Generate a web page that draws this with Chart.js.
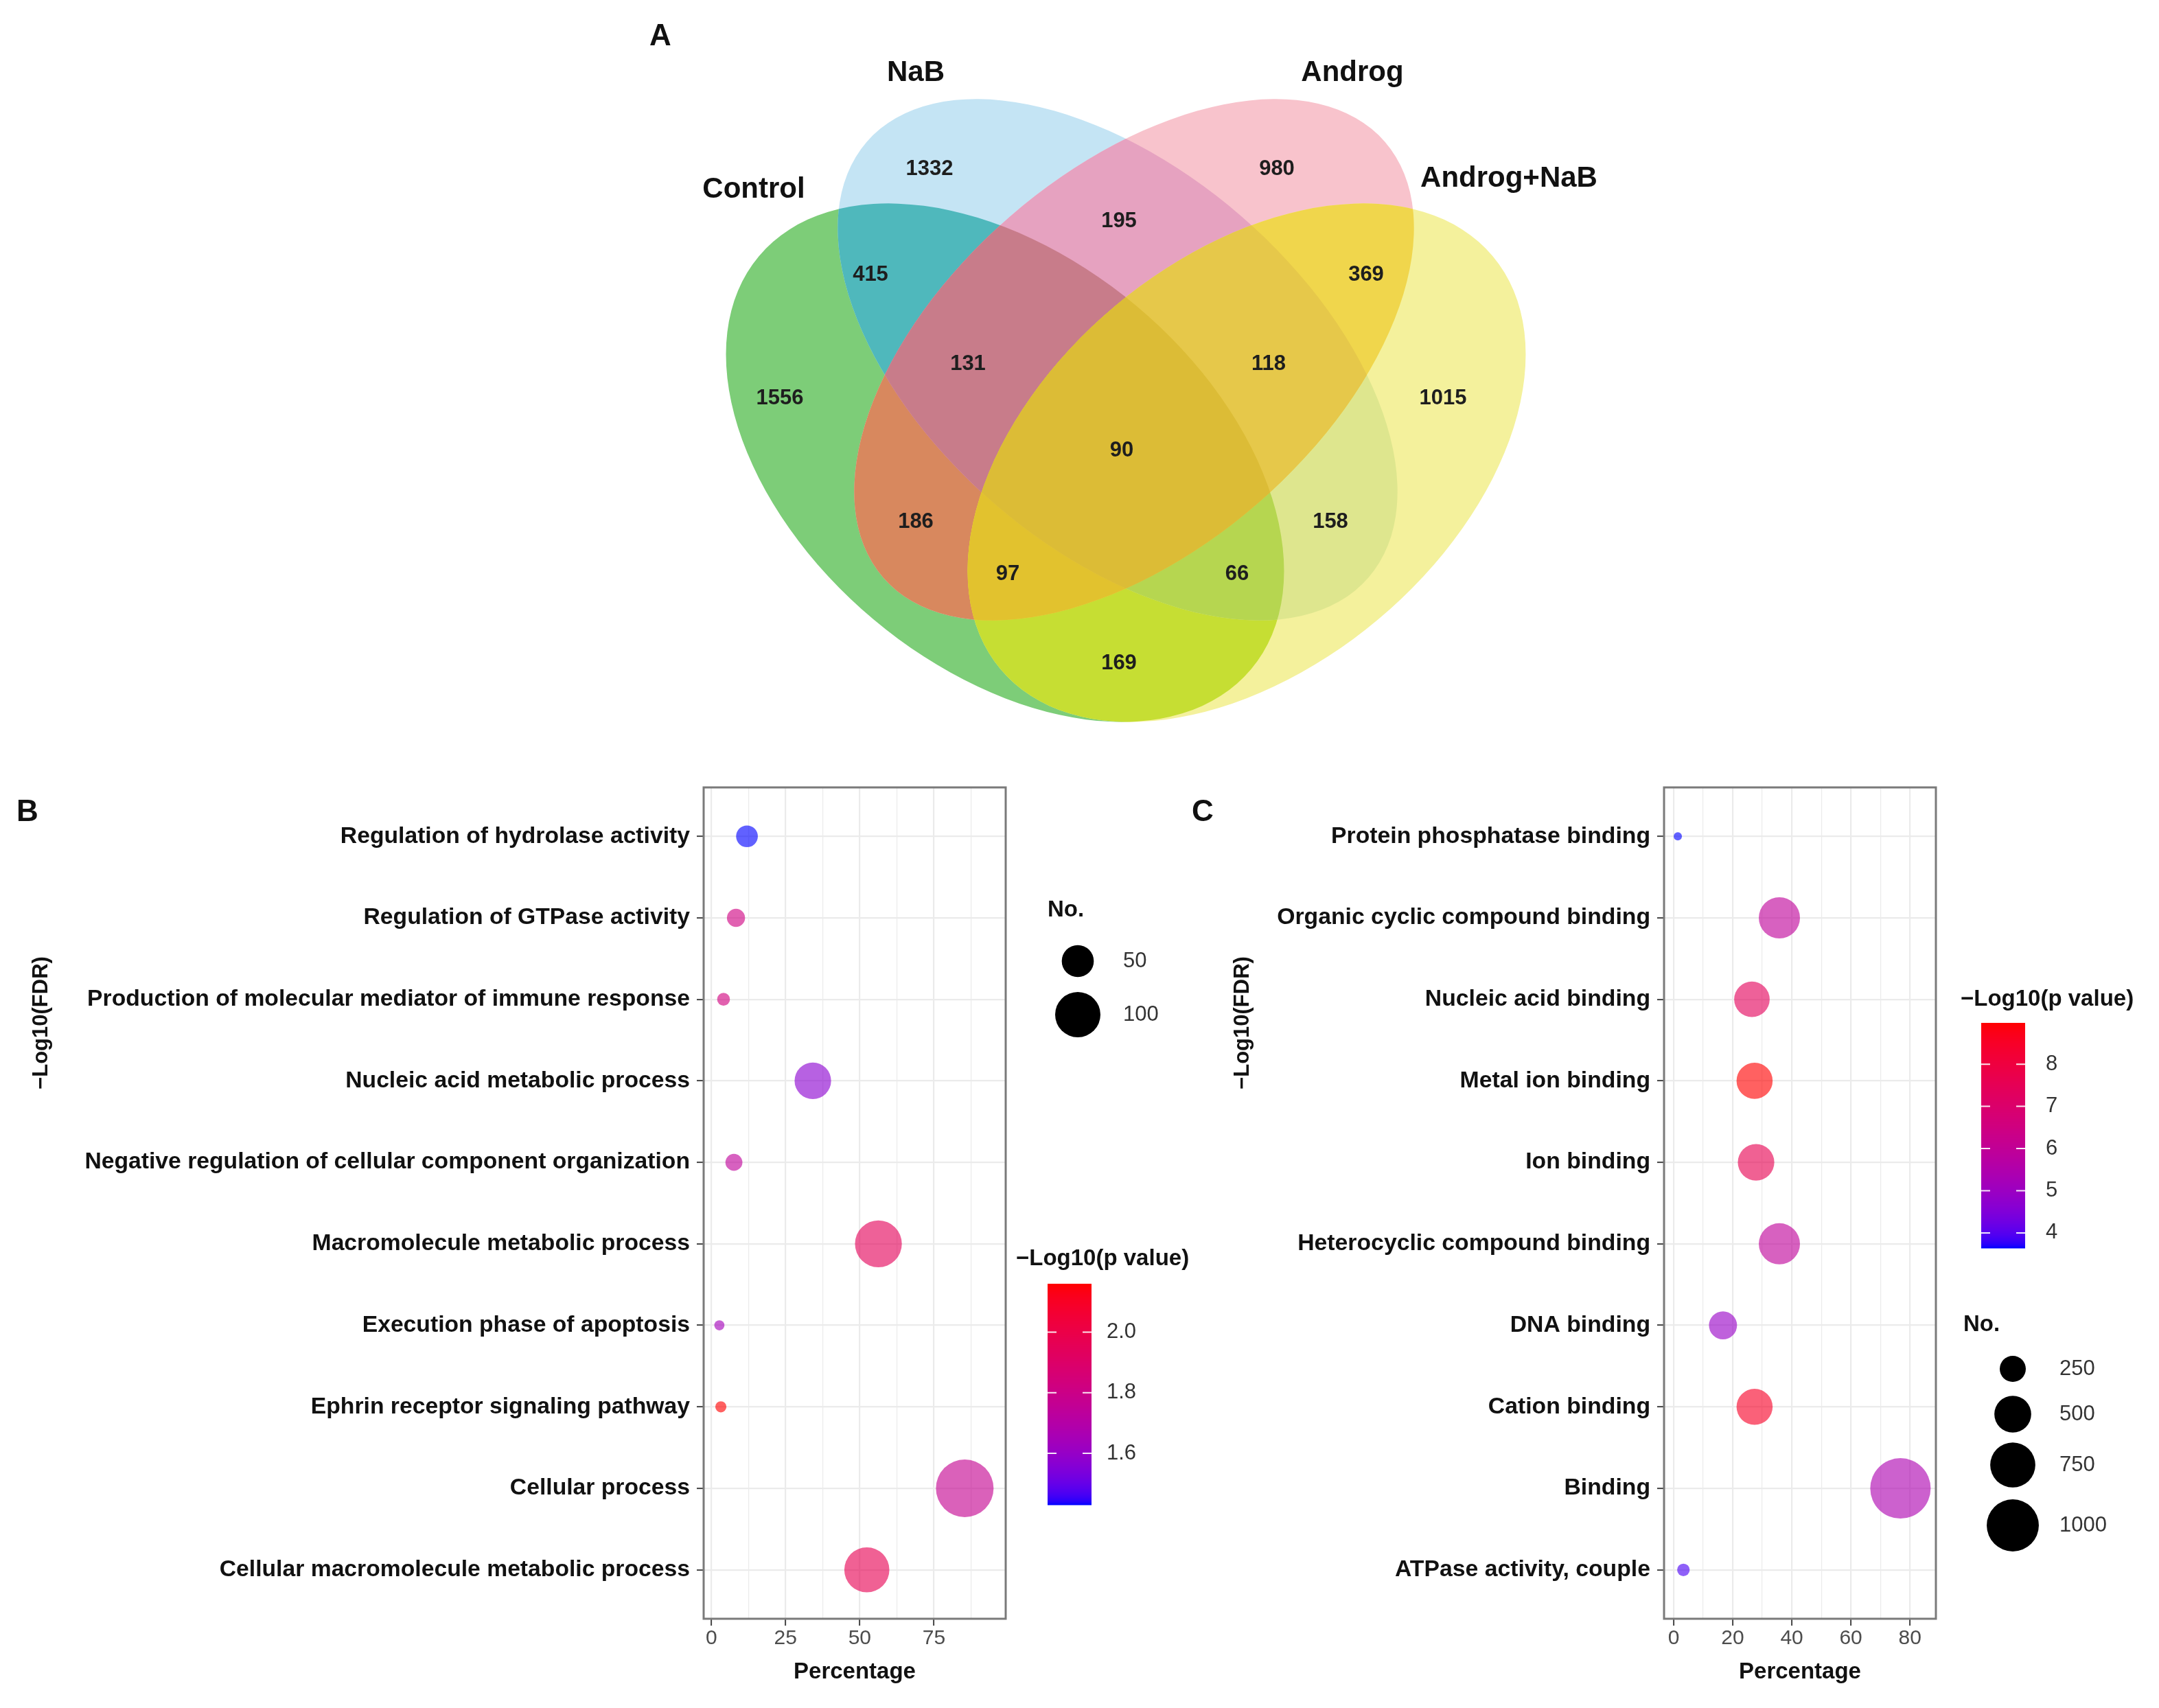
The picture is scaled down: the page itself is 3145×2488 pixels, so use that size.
<!DOCTYPE html>
<html>
<head>
<meta charset="utf-8">
<script src="https://cdn.jsdelivr.net/npm/chart.js@4.4.1/dist/chart.umd.min.js"></script>
<style>
  body { margin: 0; background: #fff; }
  canvas { position: absolute; }
</style>
</head>
<body>
<canvas id="venn" width="3145" height="1100" style="left:0px;top:0px"></canvas>
<canvas id="goB" width="1745" height="1388" style="left:0px;top:1100px"></canvas>
<canvas id="goC" width="1445" height="1388" style="left:1700px;top:1100px"></canvas>
<script>
const FONT = '"Liberation Sans", Arial, sans-serif';

// ---- Panel A: Venn counts ----
const setNames = ["Control", "NaB", "Androg", "Androg+NaB"];
// which sets each region belongs to (0 Control, 1 NaB, 2 Androg, 3 Androg+NaB)
const regionSets = [[0], [1], [2], [3], [0, 1], [0, 2], [0, 3], [1, 2], [1, 3], [2, 3],
  [0, 1, 2], [0, 1, 3], [0, 2, 3], [1, 2, 3], [0, 1, 2, 3]];
const regionCounts = [1556, 1332, 980, 1015, 415, 186, 169, 195, 158, 369, 131, 66, 97, 118, 90];

// ---- Panel B: GO biological process ----
const termsB = [
  "Regulation of hydrolase activity",
  "Regulation of GTPase activity",
  "Production of molecular mediator of immune response",
  "Nucleic acid metabolic process",
  "Negative regulation of cellular component organization",
  "Macromolecule metabolic process",
  "Execution phase of apoptosis",
  "Ephrin receptor signaling pathway",
  "Cellular process",
  "Cellular macromolecule metabolic process"
];
const percentB = [12.0, 8.3, 4.1, 34.2, 7.6, 56.3, 2.7, 3.2, 85.4, 52.4];
const countB = [23, 16, 8, 65, 14, 107, 5, 6, 162, 99];
const logPB = [1.43, 1.82, 1.83, 1.57, 1.74, 1.95, 1.64, 2.16, 1.77, 1.97];
const xTicksB = [0, 25, 50, 75];
const sizeBreaksB = [50, 100];
const colorBreaksB = [1.6, 1.8, 2.0];

// ---- Panel C: GO molecular function ----
const termsC = [
  "Protein phosphatase binding",
  "Organic cyclic compound binding",
  "Nucleic acid binding",
  "Metal ion binding",
  "Ion binding",
  "Heterocyclic compound binding",
  "DNA binding",
  "Cation binding",
  "Binding",
  "ATPase activity, couple"
];
const percentC = [1.4, 35.8, 26.5, 27.4, 27.9, 35.8, 16.7, 27.4, 76.8, 3.3];
const countC = [25, 625, 465, 480, 490, 625, 290, 480, 1345, 58];
const logPC = [3.64, 5.9, 7.4, 8.98, 7.6, 5.9, 4.9, 8.5, 5.4, 3.9];
const xTicksC = [0, 20, 40, 60, 80];
const sizeBreaksC = [250, 500, 750, 1000];
const colorBreaksC = [4, 5, 6, 7, 8];

// ---------- colour helpers (blue -> red in Lab, like ggplot) ----------
const WP = [0.95047, 1, 1.08883];
function toLin(c) { c /= 255; return c <= 0.04045 ? c / 12.92 : Math.pow((c + 0.055) / 1.055, 2.4); }
function fromLin(c) {
  c = c <= 0.0031308 ? 12.92 * c : 1.055 * Math.pow(c, 1 / 2.4) - 0.055;
  return Math.round(Math.max(0, Math.min(1, c)) * 255);
}
function rgb2lab(rgb) {
  const [r, g, b] = rgb.map(toLin);
  const X = (0.4124 * r + 0.3576 * g + 0.1805 * b) / WP[0];
  const Y = (0.2126 * r + 0.7152 * g + 0.0722 * b) / WP[1];
  const Z = (0.0193 * r + 0.1192 * g + 0.9505 * b) / WP[2];
  const f = t => t > 216 / 24389 ? Math.cbrt(t) : (24389 / 27 * t + 16) / 116;
  const fx = f(X), fy = f(Y), fz = f(Z);
  return [116 * fy - 16, 500 * (fx - fy), 200 * (fy - fz)];
}
function lab2rgb([L, a, b]) {
  const fy = (L + 16) / 116, fx = fy + a / 500, fz = fy - b / 200;
  const inv = t => t * t * t > 216 / 24389 ? t * t * t : (116 * t - 16) / (24389 / 27);
  const X = inv(fx) * WP[0], Y = inv(fy) * WP[1], Z = inv(fz) * WP[2];
  return [
    fromLin(3.2406 * X - 1.5372 * Y - 0.4986 * Z),
    fromLin(-0.9689 * X + 1.8758 * Y + 0.0415 * Z),
    fromLin(0.0557 * X - 0.2040 * Y + 1.0570 * Z)
  ];
}
const LAB_LO = rgb2lab([0, 0, 255]), LAB_HI = rgb2lab([255, 0, 0]);
function gradColor(t, alpha) {
  const [r, g, b] = lab2rgb(LAB_LO.map((v, i) => v + (LAB_HI[i] - v) * t));
  return `rgba(${r},${g},${b},${alpha})`;
}

// ---------- Panel A ----------
// ellipse geometry in a 1572.5 x 550 layout space
const ellipses = [
  { cx: 732, cy: 337, a: 234, b: 149, rot: 40 },
  { cx: 814, cy: 262, a: 242, b: 138, rot: 41 },
  { cx: 826, cy: 262, a: 242, b: 138, rot: -41 },
  { cx: 908, cy: 337, a: 234, b: 149, rot: -40 }
];
const regionColors = ["#7dcd78", "#c4e4f4", "#f8c3cc", "#f4f19c", "#4fb8bc", "#d8885e", "#c6de33",
  "#e6a2c0", "#dee68e", "#f0d64c", "#c87c8a", "#b6d650", "#e2c22e", "#e6c84a", "#dcbc36"];
const regionLabelPos = [[568, 290], [677, 123], [930, 123], [1051, 290], [634, 200], [667, 380], [815, 483],
  [815, 161], [969, 380], [995, 200], [705, 265], [901, 418], [734, 418], [924, 265], [817, 328]];
const setLabelPos = [[549, 138], [667, 53], [985, 53], [1099, 130]];

const vennPlugin = {
  id: 'venn',
  beforeDatasetsDraw(chart) {
    const { ctx, scales: { x, y }, width, height } = chart;
    const sx = x.getPixelForValue(1) - x.getPixelForValue(0);
    const sy = y.getPixelForValue(1) - y.getPixelForValue(0);
    const path = i => {
      const e = ellipses[i];
      ctx.beginPath();
      ctx.ellipse(x.getPixelForValue(e.cx), y.getPixelForValue(e.cy), e.a * sx, e.b * sy,
        e.rot * Math.PI / 180, 0, Math.PI * 2);
    };
    // paint intersections from single sets up to all four, each on top of the last
    const order = regionSets.map((s, k) => k).sort((p, q) => regionSets[p].length - regionSets[q].length);
    order.forEach(k => {
      ctx.save();
      regionSets[k].forEach(i => { path(i); ctx.clip(); });
      ctx.fillStyle = regionColors[k];
      ctx.fillRect(0, 0, width, height);
      ctx.restore();
    });
  },
  afterDatasetsDraw(chart) {
    const { ctx, scales: { x, y } } = chart;
    const meta = chart.getDatasetMeta(0);
    ctx.save();
    ctx.textAlign = 'center';
    ctx.textBaseline = 'middle';
    ctx.fillStyle = '#1e1e1e';
    ctx.font = `bold 31px ${FONT}`;
    meta.data.forEach((pt, i) => ctx.fillText(String(regionCounts[i]), pt.x, pt.y));
    ctx.fillStyle = '#111';
    ctx.font = `bold 42px ${FONT}`;
    setNames.forEach((n, i) => ctx.fillText(n, x.getPixelForValue(setLabelPos[i][0]), y.getPixelForValue(setLabelPos[i][1])));
    ctx.font = `bold 44px ${FONT}`;
    ctx.fillText('A', x.getPixelForValue(481), y.getPixelForValue(27));
    ctx.restore();
  }
};

new Chart(document.getElementById('venn'), {
  type: 'scatter',
  data: { datasets: [{ data: regionLabelPos.map(p => ({ x: p[0], y: p[1] })), pointRadius: 0 }] },
  options: {
    responsive: false, devicePixelRatio: 1, animation: false, events: [],
    layout: { padding: 0 },
    plugins: { legend: { display: false }, tooltip: { enabled: false } },
    scales: {
      x: { type: 'linear', display: false, min: 0, max: 1572.5 },
      y: { type: 'linear', display: false, min: 0, max: 550, reverse: true }
    }
  },
  plugins: [vennPlugin]
});

// ---------- Panels B and C ----------
function fitFont(label, targetWidth) {
  const c = document.createElement('canvas').getContext('2d');
  c.font = `bold 100px ${FONT}`;
  return 100 * targetWidth / c.measureText(label).width;
}

function goChart(id, terms, pct, counts, logp, o) {
  const n = terms.length;
  const lo = Math.min(...logp), hi = Math.max(...logp);
  const tOf = v => (v - lo) / (hi - lo);
  const longest = terms.reduce((p, q) => q.length > p.length ? q : p);
  const labelSize = fitFont(longest, o.longestWidth);
  const minorStep = o.xTicks[1] / 2;
  const xGrid = [];
  for (let v = 0; v < o.xMax; v += minorStep) xGrid.push(v);

  const legendPlugin = {
    id: 'legend_' + id,
    afterDatasetsDraw(chart) {
      const { ctx, chartArea: ca } = chart;
      ctx.save();
      // panel border
      ctx.strokeStyle = '#7a7a7a';
      ctx.lineWidth = 3;
      ctx.strokeRect(ca.left, ca.top, ca.right - ca.left, ca.bottom - ca.top);
      ctx.fillStyle = '#111';
      ctx.textBaseline = 'middle';
      // panel letter
      ctx.textAlign = 'center';
      ctx.font = `bold 44px ${FONT}`;
      ctx.fillText(o.letter, o.letterPos[0], o.letterPos[1]);
      // axis titles
      ctx.font = `bold 33px ${FONT}`;
      ctx.fillText('Percentage', (ca.left + ca.right) / 2, o.xTitleY);
      ctx.save();
      ctx.translate(o.yTitlePos[0], o.yTitlePos[1]);
      ctx.rotate(-Math.PI / 2);
      ctx.font = `bold 31px ${FONT}`;
      ctx.fillText('\u2212Log10(FDR)', 0, 0);
      ctx.restore();
      // size legend
      ctx.textAlign = 'left';
      ctx.font = `bold 33px ${FONT}`;
      ctx.fillText('No.', o.size.titleX, o.size.titleY);
      ctx.font = `31px ${FONT}`;
      o.sizeBreaks.forEach((b, i) => {
        ctx.fillStyle = '#000';
        ctx.beginPath();
        ctx.arc(o.size.cx, o.size.cy[i], o.k * Math.sqrt(b), 0, Math.PI * 2);
        ctx.fill();
        ctx.fillStyle = '#333';
        ctx.fillText(String(b), o.size.labelX, o.size.cy[i]);
      });
      // colour bar
      const cb = o.bar;
      ctx.fillStyle = '#111';
      ctx.font = `bold 33px ${FONT}`;
      ctx.fillText('\u2212Log10(p value)', cb.titleX, cb.titleY);
      for (let py = 0; py < cb.h; py++) {
        ctx.fillStyle = gradColor(1 - py / (cb.h - 1), 1);
        ctx.fillRect(cb.x, cb.y + py, cb.w, 1.5);
      }
      ctx.font = `31px ${FONT}`;
      o.colorBreaks.forEach(v => {
        const py = cb.y + cb.h - tOf(v) * cb.h;
        ctx.strokeStyle = 'rgba(255,255,255,0.9)';
        ctx.lineWidth = 2;
        ctx.beginPath();
        ctx.moveTo(cb.x, py); ctx.lineTo(cb.x + 13, py);
        ctx.moveTo(cb.x + cb.w - 13, py); ctx.lineTo(cb.x + cb.w, py);
        ctx.stroke();
        ctx.fillStyle = '#333';
        ctx.fillText(o.colorFmt(v), cb.labelX, py);
      });
      ctx.restore();
    }
  };

  return new Chart(document.getElementById(id), {
    type: 'bubble',
    data: {
      datasets: [{
        data: terms.map((t, i) => ({ x: pct[i], y: n - i, r: o.k * Math.sqrt(counts[i]) })),
        backgroundColor: logp.map(v => gradColor(tOf(v), 0.62)),
        borderWidth: 0,
        clip: false
      }]
    },
    options: {
      responsive: false, devicePixelRatio: 1, animation: false, events: [],
      layout: { padding: { left: 0, top: o.top, right: o.padRight, bottom: 0 } },
      plugins: { legend: { display: false }, tooltip: { enabled: false } },
      scales: {
        x: {
          type: 'linear', min: o.xMin, max: o.xMax,
          afterBuildTicks: s => { s.ticks = xGrid.map(v => ({ value: v })); },
          afterFit: s => { s.height = o.xAxisHeight; },
          ticks: {
            autoSkip: false, maxRotation: 0, padding: 1,
            color: '#4d4d4d', font: { family: FONT, size: 30 },
            callback: v => o.xTicks.includes(v) ? String(v) : ''
          },
          grid: {
            color: '#ebebeb',
            lineWidth: c => c.tick && o.xTicks.includes(c.tick.value) ? 2.2 : 1.2,
            tickLength: 10, tickWidth: 2,
            tickColor: c => c.tick && o.xTicks.includes(c.tick.value) ? '#444' : 'rgba(0,0,0,0)'
          },
          border: { display: false }
        },
        y: {
          type: 'linear', min: 0.4, max: n + 0.6,
          afterBuildTicks: s => { s.ticks = terms.map((t, i) => ({ value: i + 1 })); },
          afterFit: s => { s.width = o.yAxisWidth; },
          ticks: {
            autoSkip: false, padding: 10,
            color: '#111', font: { family: FONT, size: labelSize, weight: 'bold' },
            callback: v => terms[n - v]
          },
          grid: { color: '#ebebeb', lineWidth: 2.2, tickLength: 10, tickWidth: 2, tickColor: '#444' },
          border: { display: false }
        }
      }
    },
    plugins: [legendPlugin]
  });
}

goChart('goB', termsB, percentB, countB, logPB, {
  xMin: -2.6, xMax: 99.2, xTicks: xTicksB, sizeBreaks: sizeBreaksB, colorBreaks: colorBreaksB,
  colorFmt: v => v.toFixed(1), k: 3.3, longestWidth: 882,
  top: 47, padRight: 280, yAxisWidth: 1025, xAxisHeight: 130,
  letter: 'B', letterPos: [40, 84], xTitleY: 1336, yTitlePos: [60, 390],
  size: { titleX: 1526, titleY: 226, cx: 1570, cy: [300, 378], labelX: 1636 },
  bar: { titleX: 1480, titleY: 734, x: 1526, y: 770, w: 64, h: 322, labelX: 1612 }
});

goChart('goC', termsC, percentC, countC, logPC, {
  xMin: -3.26, xMax: 88.8, xTicks: xTicksC, sizeBreaks: sizeBreaksC, colorBreaks: colorBreaksC,
  colorFmt: v => String(v), k: 1.2, longestWidth: 544,
  top: 47, padRight: 325, yAxisWidth: 724, xAxisHeight: 130,
  letter: 'C', letterPos: [52, 84], xTitleY: 1336, yTitlePos: [110, 390],
  size: { titleX: 1160, titleY: 830, cx: 1232, cy: [894, 960, 1034, 1122], labelX: 1300 },
  bar: { titleX: 1156, titleY: 356, x: 1186, y: 390, w: 64, h: 328, labelX: 1280 }
});
</script>
</body>
</html>
